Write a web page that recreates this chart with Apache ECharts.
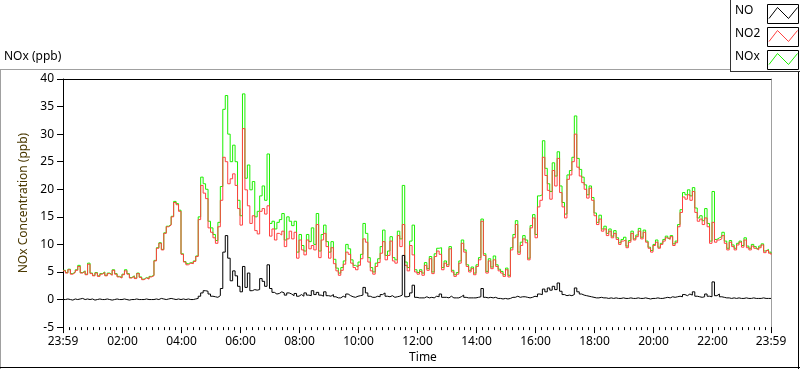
<!DOCTYPE html>
<html>
<head>
<meta charset="utf-8">
<script src="https://cdn.jsdelivr.net/npm/echarts@6/dist/echarts.min.js"></script>
<style>
  html, body { margin: 0; padding: 0; background: #fff; }
  #chart { width: 800px; height: 369px; }
</style>
</head>
<body>
<div id="chart"></div>
<script>
// NOx (ppb) - one day of NO / NO2 / NOx, one sample every 5 minutes starting at 23:59
const stepMinutes = 5;

const no = [
  0.0, 0.1, 0.0, -0.1, 0.1, 0.0, 0.1, 0.2, 0.0, 0.1,
  0.0, 0.1, -0.1, 0.0, 0.1, 0.0, 0.0, 0.1, 0.0, -0.1,
  0.0, 0.1, 0.0, 0.0, 0.1, 0.0, -0.1, 0.0, 0.0, 0.1,
  0.0, 0.0, 0.0, 0.1, 0.0, 0.0, 0.0, 0.1, 0.0, 0.2,
  0.1, 0.0, 0.1, 0.2, 0.1, 0.0, 0.1, 0.0, 0.1, 0.0,
  0.1, 0.0, 0.0, 0.1, 0.2, 0.6, 1.2, 1.6, 1.5, 1.0,
  0.6, 0.5, 0.4, 0.7, 2.0, 8.6, 11.6, 7.5, 3.4, 5.2,
  4.3, 2.4, 1.4, 6.0, 2.2, 4.8, 1.6, 1.8, 1.7, 1.8,
  3.8, 3.3, 2.4, 6.3, 2.0, 1.3, 1.0, 1.1, 1.4, 1.2,
  0.8, 1.2, 1.0, 0.7, 1.1, 0.6, 0.9, 0.6, 1.2, 0.8,
  0.7, 1.6, 0.9, 1.3, 0.8, 0.6, 1.4, 0.7, 0.6, 0.9,
  0.5, 0.3, 0.3, 0.6, 0.4, 1.0, 0.7, 0.5, 0.4, 0.6,
  0.7, 0.8, 2.2, 1.2, 0.6, 0.4, 0.4, 0.6, 0.5, 0.9,
  1.2, 0.6, 0.5, 0.7, 0.4, 0.5, 0.6, 0.8, 8.0, 0.5,
  0.6, 1.2, 2.6, 0.4, 0.3, 0.3, 0.3, 0.5, 0.3, 0.4,
  0.3, 0.6, 0.5, 1.0, 0.4, 0.4, 0.3, 0.6, 0.3, 0.3,
  0.3, 0.5, 0.8, 0.4, 0.3, 0.3, 0.3, 0.3, 0.4, 0.5,
  2.0, 0.4, 0.3, 0.4, 0.3, 0.4, 0.2, 0.2, 0.1, 0.2,
  0.1, 0.2, 0.4, 0.4, 0.6, 0.4, 0.5, 0.5, 0.4, 0.3,
  0.4, 0.6, 0.5, 1.0, 0.9, 1.9, 1.4, 2.1, 1.7, 2.4,
  1.8, 3.0, 1.5, 0.9, 0.7, 0.8, 0.7, 0.9, 2.1, 1.4,
  1.0, 0.8, 0.7, 0.6, 0.5, 0.4, 0.3, 0.3, 0.4, 0.3,
  0.3, 0.2, 0.3, 0.2, 0.3, 0.2, 0.2, 0.3, 0.2, 0.2,
  0.3, 0.2, 0.2, 0.3, 0.2, 0.2, 0.3, 0.2, 0.1, 0.2,
  0.2, 0.3, 0.2, 0.2, 0.3, 0.4, 0.3, 0.5, 0.4, 0.5,
  0.6, 0.5, 0.9, 0.7, 1.0, 0.8, 1.4, 0.6, 0.5, 0.4,
  0.5, 1.0, 0.6, 0.5, 3.2, 0.7, 1.0, 0.5, 0.4, 0.3,
  0.3, 0.2, 0.3, 0.2, 0.3, 0.2, 0.2, 0.3, 0.2, 0.2,
  0.3, 0.2, 0.2, 0.2, 0.3, 0.2, 0.2, 0.2, 0.2
];

const no2 = [
  5.2, 4.8, 5.4, 4.6, 4.9, 5.3, 6.0, 4.8, 5.1, 4.5,
  6.4, 4.7, 4.3, 4.8, 4.2, 4.6, 4.9, 4.3, 4.7, 4.4,
  5.3, 4.6, 4.1, 3.9, 4.5, 5.2, 4.6, 3.9, 4.2, 3.8,
  4.7, 4.0, 3.6, 3.9, 3.7, 4.1, 4.3, 7.0, 9.3, 10.2,
  9.0, 12.0, 13.2, 13.5, 15.0, 17.6, 17.2, 16.0, 8.2, 6.8,
  6.3, 6.6, 6.5, 6.9, 7.8, 14.5, 20.7, 19.3, 18.3, 13.0,
  12.2, 11.2, 10.2, 13.2, 18.0, 25.8, 25.0, 21.0, 21.9, 22.8,
  20.7, 16.5, 13.5, 31.0, 19.9, 17.0, 13.8, 15.2, 12.5, 11.9,
  16.0, 16.5, 15.5, 17.0, 11.5, 12.8, 10.8, 12.0, 11.7, 12.4,
  9.6, 11.0, 12.4, 11.0, 12.2, 7.5, 10.8, 9.0, 8.1, 10.8,
  9.2, 9.8, 9.0, 13.6, 7.6, 10.8, 12.0, 9.6, 7.5, 9.4,
  6.5, 5.2, 4.4, 5.3, 6.4, 8.6, 8.2, 6.6, 5.8, 5.4,
  6.2, 7.4, 11.0, 10.4, 6.8, 5.2, 4.6, 6.0, 6.7, 8.4,
  10.5, 7.2, 8.0, 10.6, 7.0, 6.6, 11.6, 9.6, 13.6, 6.2,
  5.2, 9.8, 8.1, 5.0, 4.6, 5.1, 4.4, 6.2, 5.3, 7.4,
  4.7, 7.8, 8.8, 8.2, 5.4, 6.6, 6.0, 9.2, 5.0, 4.2,
  4.6, 6.6, 10.2, 8.6, 6.0, 5.0, 5.6, 4.5, 6.0, 7.2,
  14.2, 8.0, 4.8, 7.0, 5.6, 7.2, 6.0, 5.2, 4.8, 4.2,
  5.4, 4.1, 9.0, 11.2, 13.6, 8.2, 9.8, 11.0, 10.3, 7.2,
  13.0, 14.8, 11.2, 16.8, 18.0, 25.8, 22.5, 19.8, 18.2, 23.4,
  20.6, 25.6, 19.4, 16.8, 14.8, 21.8, 22.6, 25.0, 30.0, 24.0,
  22.4, 21.2, 20.0, 18.4, 20.2, 18.0, 15.2, 13.6, 14.6, 12.4,
  12.8, 11.6, 12.4, 11.2, 12.0, 10.9, 10.0, 10.6, 10.8, 9.4,
  10.4, 12.0, 10.8, 11.4, 12.4, 11.0, 12.2, 10.4, 9.3, 8.6,
  9.8, 10.4, 9.3, 10.0, 10.6, 11.2, 10.9, 11.4, 9.8, 10.3,
  13.2, 15.8, 18.6, 18.2, 19.0, 18.0, 19.6, 15.8, 14.2, 14.6,
  13.6, 14.8, 13.2, 10.2, 14.0, 10.4, 10.8, 11.0, 11.6, 10.2,
  9.0, 10.4, 9.6, 9.0, 9.9, 10.4, 9.5, 10.8, 9.4, 9.0,
  9.7, 9.3, 9.0, 9.4, 9.9, 8.5, 8.9, 8.4, 8.1
];

const nox = [
  5.3, 4.9, 5.5, 4.7, 5.0, 5.4, 6.2, 4.9, 5.2, 4.6,
  6.6, 4.8, 4.4, 4.9, 4.3, 4.7, 5.0, 4.4, 4.8, 4.5,
  5.4, 4.7, 4.2, 4.0, 4.6, 5.4, 4.7, 4.0, 4.3, 3.9,
  4.8, 4.1, 3.7, 4.0, 3.8, 4.2, 4.4, 7.1, 9.4, 10.3,
  9.1, 12.1, 13.3, 13.6, 15.1, 17.8, 17.4, 16.2, 8.3, 6.9,
  6.5, 6.7, 6.6, 7.0, 7.9, 15.0, 22.2, 21.0, 20.0, 14.2,
  13.0, 11.8, 10.7, 14.0, 20.5, 34.5, 37.0, 30.0, 25.0, 28.0,
  25.0, 18.0, 15.2, 37.3, 22.0, 24.4, 19.9, 21.4, 15.0, 16.0,
  18.8, 20.6, 18.0, 26.4, 13.8, 14.2, 12.8, 14.0, 14.5, 15.6,
  10.8, 15.0, 14.2, 13.4, 14.2, 8.6, 11.8, 9.8, 8.8, 11.8,
  10.5, 13.0, 10.0, 15.6, 8.8, 11.8, 13.5, 10.5, 8.6, 10.5,
  7.3, 5.7, 4.8, 5.8, 7.0, 10.0, 9.2, 7.2, 6.2, 5.9,
  6.8, 8.2, 13.8, 12.0, 7.6, 5.8, 5.0, 6.6, 7.4, 9.6,
  12.6, 8.0, 8.8, 11.4, 7.6, 7.2, 12.4, 11.0, 20.7, 6.8,
  5.8, 10.6, 13.5, 5.4, 4.9, 5.4, 4.8, 6.7, 5.6, 7.8,
  5.0, 8.3, 9.3, 9.4, 5.8, 7.0, 6.3, 9.6, 5.3, 4.5,
  4.9, 7.0, 10.8, 9.0, 6.3, 5.3, 5.9, 4.8, 6.3, 7.6,
  14.6, 8.3, 5.1, 7.4, 5.9, 7.9, 6.3, 5.5, 5.1, 4.5,
  5.7, 4.4, 9.4, 11.8, 14.3, 8.6, 10.4, 11.6, 10.8, 7.5,
  13.4, 15.4, 11.8, 18.8, 19.0, 28.8, 23.8, 21.0, 19.6, 24.8,
  22.4, 26.8, 20.6, 17.6, 15.5, 22.6, 23.4, 25.8, 33.3, 25.6,
  23.6, 22.2, 20.8, 19.0, 20.6, 18.5, 15.7, 14.0, 15.3, 12.8,
  13.3, 12.0, 12.8, 11.5, 12.5, 11.2, 10.3, 10.9, 11.3, 9.7,
  10.7, 12.4, 11.0, 11.7, 12.9, 11.3, 12.6, 10.6, 9.5, 8.9,
  10.0, 10.8, 9.5, 10.2, 10.9, 11.5, 11.1, 11.6, 10.1, 10.6,
  13.6, 16.3, 19.4, 19.0, 19.9, 18.8, 20.3, 16.6, 14.8, 15.2,
  14.3, 16.5, 13.8, 10.6, 19.6, 10.9, 11.2, 11.4, 12.2, 10.6,
  9.3, 10.7, 9.9, 9.3, 10.2, 10.6, 9.8, 11.2, 9.7, 9.3,
  10.0, 9.6, 9.2, 9.7, 10.1, 8.8, 9.1, 8.6, 8.3
];

// x axis: minutes after 23:59
const labelMinutes = [0, 121, 241, 361, 481, 601, 721, 841, 961, 1081, 1201, 1321, 1440];
const tickLabels = ['23:59', '02:00', '04:00', '06:00', '08:00', '10:00', '12:00',
  '14:00', '16:00', '18:00', '20:00', '22:00', '23:59'];

const seriesNames = ['NO', 'NO2', 'NOx'];
const seriesColors = ['#000000', '#ff4040', '#1cf000'];

const font = '"Noto Sans", "DejaVu Sans", sans-serif';

function toPoints(values) {
  return values.map((v, i) => [i * stepMinutes, v]);
}

// minor ticks every 12 minutes from 00:00
let minorTicks = [0];
for (let m = 1; m < 1440; m += 12) minorTicks.push(m);
minorTicks.push(1440);

function legendItem(i) {
  let y = 4 + i * 23;
  return [
    { type: 'text', left: 735, top: y + 1, style: { text: seriesNames[i], font: '12px ' + font, fill: '#000' } },
    { type: 'rect', shape: { x: 767.5, y: y + 0.5, width: 31, height: 19 }, style: { fill: '#fff', stroke: '#000', lineWidth: 1 } },
    {
      type: 'polyline',
      shape: { points: [[769, y + 14.5], [777.5, y + 3.5], [788.5, y + 14.5], [797.5, y + 3.5]] },
      style: { stroke: seriesColors[i], lineWidth: 1, fill: null }
    }
  ];
}

let option = null;
option = {
  animation: false,
  backgroundColor: '#fff',
  textStyle: { fontFamily: font },
  grid: { left: 63, right: 29, top: 79, bottom: 40 },
  xAxis: [
    {
      type: 'value', min: 0, max: 1440, position: 'bottom',
      name: 'Time', nameLocation: 'middle', nameGap: 23,
      nameTextStyle: { color: '#000', fontSize: 12, padding: [0, 0, 0, 12] },
      axisLine: { show: false, onZero: false },
      splitLine: { show: false },
      axisTick: { customValues: labelMinutes, length: 6, lineStyle: { color: '#000' } },
      axisLabel: {
        customValues: labelMinutes, color: '#000', fontSize: 12, margin: 8,
        formatter: function (v) { return tickLabels[labelMinutes.indexOf(v)]; }
      }
    },
    {
      type: 'value', min: 0, max: 1440, position: 'bottom',
      axisLine: { show: false, onZero: false },
      splitLine: { show: false },
      axisLabel: { show: false },
      axisTick: { customValues: minorTicks, length: 3, lineStyle: { color: '#000' } }
    },
    {
      type: 'value', min: 0, max: 1440, position: 'top',
      axisLine: { show: true, onZero: false, lineStyle: { color: '#000' } },
      splitLine: { show: false },
      axisLabel: { show: false },
      axisTick: { show: false }
    }
  ],
  yAxis: [
    {
      type: 'value', min: -5, max: 40, interval: 5,
      name: 'NOx Concentration (ppb)', nameLocation: 'middle', nameGap: 26,
      nameTextStyle: { color: '#4a3800', fontSize: 12 },
      axisLine: { show: true, onZero: false, lineStyle: { color: '#000' } },
      axisTick: { show: true, length: 6, lineStyle: { color: '#000' } },
      axisLabel: { color: '#000', fontSize: 12, margin: 9 },
      splitLine: { show: false }
    },
    {
      type: 'value', min: -5, max: 40, position: 'right',
      axisLine: { show: true, onZero: false, lineStyle: { color: '#a0a0a0' } },
      axisTick: { show: false },
      axisLabel: { show: false },
      splitLine: { show: false }
    }
  ],
  graphic: [
    // outer frame of the graph
    { type: 'line', shape: { x1: 0, y1: 69.5, x2: 730, y2: 69.5 }, style: { stroke: '#a0a0a0', lineWidth: 1 } },
    { type: 'line', shape: { x1: 0.5, y1: 69.5, x2: 0.5, y2: 369 }, style: { stroke: '#a0a0a0', lineWidth: 1 } },
    { type: 'line', shape: { x1: 0, y1: 367.5, x2: 800, y2: 367.5 }, style: { stroke: '#000', lineWidth: 1 } },
    { type: 'line', shape: { x1: 798.5, y1: 72, x2: 798.5, y2: 369 }, style: { stroke: '#000', lineWidth: 1 } },
    { type: 'text', left: 4, top: 51, style: { text: 'NOx (ppb)', font: '12px ' + font, fill: '#000' } },
    // legend box
    { type: 'line', shape: { x1: 730.5, y1: 0, x2: 730.5, y2: 72 }, style: { stroke: '#333', lineWidth: 1 } },
    { type: 'line', shape: { x1: 730, y1: 71.5, x2: 800, y2: 71.5 }, style: { stroke: '#333', lineWidth: 1 } }
  ].concat(legendItem(0), legendItem(1), legendItem(2)),
  series: [
    {
      name: 'NOx', type: 'line', data: toPoints(nox), symbol: 'none', step: 'end',
      lineStyle: { color: seriesColors[2], width: 1 }, z: 2
    },
    {
      name: 'NO2', type: 'line', data: toPoints(no2), symbol: 'none', step: 'end',
      lineStyle: { color: seriesColors[1], width: 1 }, z: 3
    },
    {
      name: 'NO', type: 'line', data: toPoints(no), symbol: 'none', step: 'end',
      lineStyle: { color: seriesColors[0], width: 1 }, z: 4
    }
  ]
};

let myChart = echarts.init(document.getElementById('chart'));
myChart.setOption(option);
</script>
</body>
</html>
